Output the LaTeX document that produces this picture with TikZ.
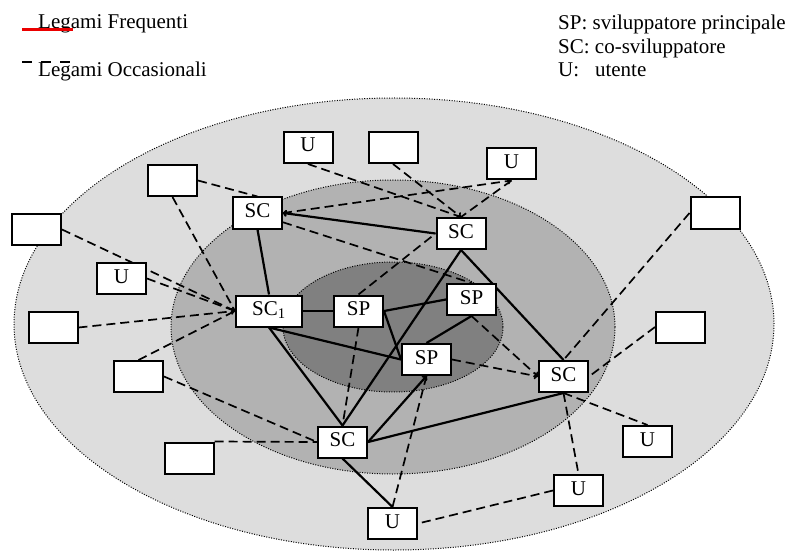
\documentclass[tikz,border=0pt]{standalone}
\usepackage{fontspec}
\setmainfont{Liberation Serif}
\usetikzlibrary{arrows.meta}
\definecolor{ringA}{RGB}{221,221,221}
\definecolor{ringB}{RGB}{178,178,178}
\definecolor{ringC}{RGB}{128,128,128}
\definecolor{legred}{RGB}{235,0,0}
\pgfdeclarelayer{back}
\pgfdeclarelayer{mid}
\pgfsetlayers{back,mid,main}
\begin{document}
\begin{tikzpicture}[x=1pt,y=-1pt,
  box/.style={draw=black,line width=2pt,fill=white,minimum width=49pt,minimum height=31pt,
    inner sep=0pt,font=\fontsize{21}{24}\selectfont,text height=14pt,text depth=5pt},
  widebox/.style={box,minimum width=66pt},
  freq/.style={line width=2.2pt,draw=black},
  occ/.style={line width=1.7pt,draw=black,dash pattern=on 9pt off 5pt},
  ring/.style={line width=1pt,draw=black,dash pattern=on 1pt off 1.5pt},
  lbl/.style={font=\fontsize{21}{24}\selectfont,inner sep=0pt,anchor=base west},
  >={To[length=4pt,width=7pt]}]
\useasboundingbox (0,0) rectangle (791,553);

% rings
\begin{pgfonlayer}{back}
\path[ring,fill=ringA] (394,324) ellipse [x radius=380pt,y radius=226pt];
\path[ring,fill=ringB] (393,327) ellipse [x radius=222pt,y radius=147pt];
\path[ring,fill=ringC] (393,327) ellipse [x radius=110pt,y radius=65pt];
\end{pgfonlayer}

% legend
\node[lbl] (lf) at (38,28.3) {Legami Frequenti};
\node[lbl] (lo) at (38,77) {Legami Occasionali};
\coordinate (lfa) at (22,29.5);
\coordinate (lfb) at (73,29.5);
\coordinate (loa) at (22,62);
\coordinate (lob) at (71,62);
\draw[color=legred,line width=2.2pt] (lfa) -- (lfb);
\draw[color=black,line width=2.2pt,dash pattern=on 10pt off 9pt] (loa) -- (lob);
\node[lbl] (k1) at (558,29.3) {SP: sviluppatore principale};
\node[lbl] (k2) at (558,53.5) {SC: co-sviluppatore};
\node[lbl] (k3) at (558,77) {\makebox[36.8pt][l]{U:}utente};

% nodes
\node[box] (b1) at (36.5,229.5) {};
\node[box] (b2) at (172.5,180.5) {};
\node[box] (u1) at (308,147.5) {U};
\node[box] (b3) at (393,147.5) {};
\node[box] (u2) at (511.5,164) {U};
\node[box] (b4) at (715,213) {};
\node[box] (sctl) at (257.5,213) {SC};
\node[box] (sctr) at (461,233.5) {SC};
\node[box] (u3) at (121.5,278.5) {U};
\node[box] (b5) at (53,327.5) {};
\node[widebox] (sc1) at (269,311) {SC\textsubscript{1}};
\node[box] (sp1) at (358.5,311) {SP};
\node[box] (spr) at (471.5,299.5) {SP};
\node[box] (spl) at (426.5,359.5) {SP};
\node[box] (b6) at (680.5,327) {};
\node[box] (b7) at (138.5,376.5) {};
\node[box] (scr) at (563.5,376.5) {SC};
\node[box] (b8) at (189,458) {};
\node[box] (scb) at (342.5,442) {SC};
\node[box] (ur) at (647.5,441.5) {U};
\node[box] (ul) at (578.5,490.5) {U};
\node[box] (ub) at (392.5,523.5) {U};

\begin{pgfonlayer}{mid}
% frequent links
\draw[freq,->] (sctr.west) -- (sctl.east);
\draw[freq] (sctl.south) -- (sc1.north);
\draw[freq] (sc1.east) -- (sp1.west);
\draw[freq] (sp1.east) -- (spr.west);
\draw[freq] (sp1.east) -- (spl.west);
\draw[freq] (sc1.south) -- (spl.west);
\draw[freq] (sc1.south) -- (scb.north);
\draw[freq] (sctr.south) -- (scb.north);
\draw[freq] (sctr.south) -- (scr.north);
\draw[freq] (spr.south) -- (spl.north);
\draw[freq,->] (scb.east) -- (spl.south);
\draw[freq] (scb.east) -- (scr.south);
\draw[freq] (scb.south) -- (ub.north);
% occasional links
\draw[occ] (b2.east) -- (sctl.north);
\draw[occ] (b2.south) -- (sc1.west);
\draw[occ] (b1.east) -- (sc1.west);
\draw[occ,->] (u3.east) -- (sc1.west);
\draw[occ,->] (b5.east) -- (sc1.west);
\draw[occ] (b7.north) -- (sc1.west);
\draw[occ] (b7.east) -- (scb.west);
\draw[occ] (b8.north east) -- (scb.west);
\draw[occ] (u1.south) -- (sctr.north);
\draw[occ,->] (b3.south) -- (sctr.north);
\draw[occ] (u2.south) -- (sctr.north);
\draw[occ,->] (sctl.east) -- (u2.south);
\draw[occ] (sctl.-20) -- (spr.north);
\draw[occ] (sp1.north) -- (sctr.west);
\draw[occ] (sp1.south) -- (scb.north);
\draw[occ] (spl.south) -- (ub.north);
\draw[occ,->] (spl.east) -- (scr.west);
\draw[occ,->] (spr.south) -- (scr.west);
\draw[occ] (b4.west) -- (scr.north);
\draw[occ] (b6.west) -- (scr.east);
\draw[occ] (scr.south) -- (ur.north);
\draw[occ] (scr.south) -- (ul.north);
\draw[occ] (ul.west) -- (ub.east);
\end{pgfonlayer}
\end{tikzpicture}
\end{document}
